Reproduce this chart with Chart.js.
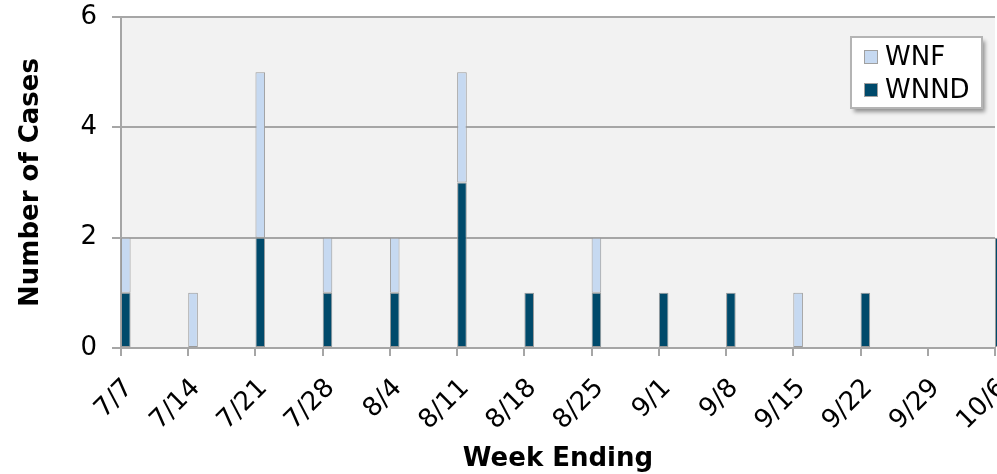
<!DOCTYPE html>
<html>
<head>
<meta charset="utf-8">
<script src="https://cdn.jsdelivr.net/npm/chart.js@4.4.1/dist/chart.umd.min.js"></script>
<style>
  html, body { margin: 0; padding: 0; background: #fff; }
  #wrap { width: 997px; height: 474px; }
</style>
</head>
<body>
<div id="wrap"><canvas id="cases" width="997" height="474"></canvas></div>
<script>
// Week ending dates (x ticks) and weekly case counts
const weekEnding = ['7/7', '7/14', '7/21', '7/28', '8/4', '8/11', '8/18', '8/25', '9/1', '9/8', '9/15', '9/22', '9/29', '10/6'];
const wnnd = [1, 0, 2, 1, 1, 3, 1, 1, 1, 1, 0, 1, 0, 2];
const wnf  = [1, 1, 3, 1, 1, 2, 0, 1, 0, 0, 1, 0, 0, 0];
const yTicks = [0, 2, 4, 6];

const DAYS_PER_WEEK = 7;
const axisGray = '#a6a6a6';
const fontName = '"DejaVu Sans", Verdana, sans-serif';

// each bar covers the reporting day right after the tick (day axis, 0 = 7/7)
const toPoints = function(values) {
  const pts = [];
  values.forEach(function(v, i) {
    if (v > 0) pts.push({ x: i * DAYS_PER_WEEK + 0.5, y: v });
  });
  return pts;
};

// plot background
const plotBg = {
  id: 'plotBg',
  beforeDraw(chart) {
    const a = chart.chartArea;
    const ctx = chart.ctx;
    ctx.save();
    ctx.fillStyle = '#f2f2f2';
    ctx.fillRect(a.left, a.top, a.right - a.left, a.bottom - a.top);
    ctx.restore();
  }
};

// legend box inside the plot, top right
const boxLegend = {
  id: 'boxLegend',
  afterDraw(chart) {
    const a = chart.chartArea;
    const ctx = chart.ctx;
    const w = 131, h = 71;
    const x = 851, y = a.top + 20;
    ctx.save();
    ctx.shadowColor = 'rgba(0,0,0,0.4)';
    ctx.shadowOffsetX = 3;
    ctx.shadowOffsetY = 4;
    ctx.shadowBlur = 4;
    ctx.fillStyle = '#fff';
    ctx.fillRect(x, y, w, h);
    ctx.shadowColor = 'transparent';
    ctx.strokeStyle = '#b4b4b4';
    ctx.lineWidth = 2;
    ctx.strokeRect(x, y, w, h);

    const sets = chart.data.datasets.slice().reverse();
    ctx.font = '26px ' + fontName;
    ctx.textBaseline = 'middle';
    ctx.textAlign = 'left';
    sets.forEach(function(ds, i) {
      const cy = y + 20 + i * 33;
      ctx.fillStyle = ds.backgroundColor;
      ctx.fillRect(x + 13, cy - 7, 14, 14);
      ctx.strokeStyle = '#a0a0a0';
      ctx.lineWidth = 1;
      ctx.strokeRect(x + 13.5, cy - 6.5, 13, 13);
      ctx.fillStyle = '#000';
      ctx.fillText(ds.label, x + 34, cy + 1);
    });
    ctx.restore();
  }
};

const ctx = document.getElementById('cases').getContext('2d');
const casesChart = new Chart(ctx, {
  type: 'bar',
  data: {
    datasets: [{
      label: 'WNND',
      data: toPoints(wnnd),
      backgroundColor: '#004a6b',
      borderColor: '#9a9a9a',
      borderWidth: 1,
      borderSkipped: false,
      clip: false
    }, {
      label: 'WNF',
      data: toPoints(wnf),
      backgroundColor: '#c6d9f1',
      borderColor: '#9a9a9a',
      borderWidth: 1,
      borderSkipped: false,
      clip: false
    }]
  },
  options: {
    responsive: false,
    animation: false,
    layout: { padding: { top: 17, right: 2, left: 0, bottom: 0 } },
    datasets: {
      bar: { categoryPercentage: 1, barPercentage: 1 / DAYS_PER_WEEK }
    },
    plugins: {
      legend: { display: false },
      tooltip: { enabled: false }
    },
    scales: {
      x: {
        type: 'linear',
        stacked: true,
        offset: false,
        min: 0,
        max: (weekEnding.length - 1) * DAYS_PER_WEEK,
        afterBuildTicks(scale) {
          scale.ticks = weekEnding.map(function(_, i) { return { value: i * DAYS_PER_WEEK }; });
        },
        afterFit(scale) {
          scale.height = 126;
          scale.paddingLeft = 0;
          scale.paddingRight = 0;
        },
        ticks: {
          autoSkip: false,
          minRotation: 45,
          maxRotation: 45,
          padding: 17,
          labelOffset: 8,
          color: '#000',
          font: { family: fontName, size: 26 },
          callback: function(value) { return weekEnding[Math.round(value / DAYS_PER_WEEK)]; }
        },
        grid: { drawOnChartArea: false, offset: false, color: axisGray, lineWidth: 2, tickLength: 8 },
        border: { color: axisGray, width: 2 },
        title: {
          display: true,
          text: 'Week Ending',
          color: '#000',
          font: { family: fontName, size: 26, weight: 'bold', lineHeight: 1 },
          padding: { top: 0, bottom: 2 }
        }
      },
      y: {
        stacked: true,
        min: 0,
        max: 6,
        afterBuildTicks(scale) {
          scale.ticks = yTicks.map(function(v) { return { value: v }; });
        },
        afterFit(scale) {
          scale.width = 121;
          scale.paddingTop = 0;
          scale.paddingBottom = 0;
        },
        ticks: {
          padding: 15,
          color: '#000',
          font: { family: fontName, size: 26 }
        },
        grid: { color: axisGray, lineWidth: 2, tickLength: 9 },
        border: { color: axisGray, width: 2 },
        title: {
          display: true,
          text: 'Number of Cases',
          color: '#000',
          font: { family: fontName, size: 26, weight: 'bold' },
          padding: { top: 16, bottom: 0 }
        }
      }
    }
  },
  plugins: [plotBg, boxLegend]
});
</script>
</body>
</html>
